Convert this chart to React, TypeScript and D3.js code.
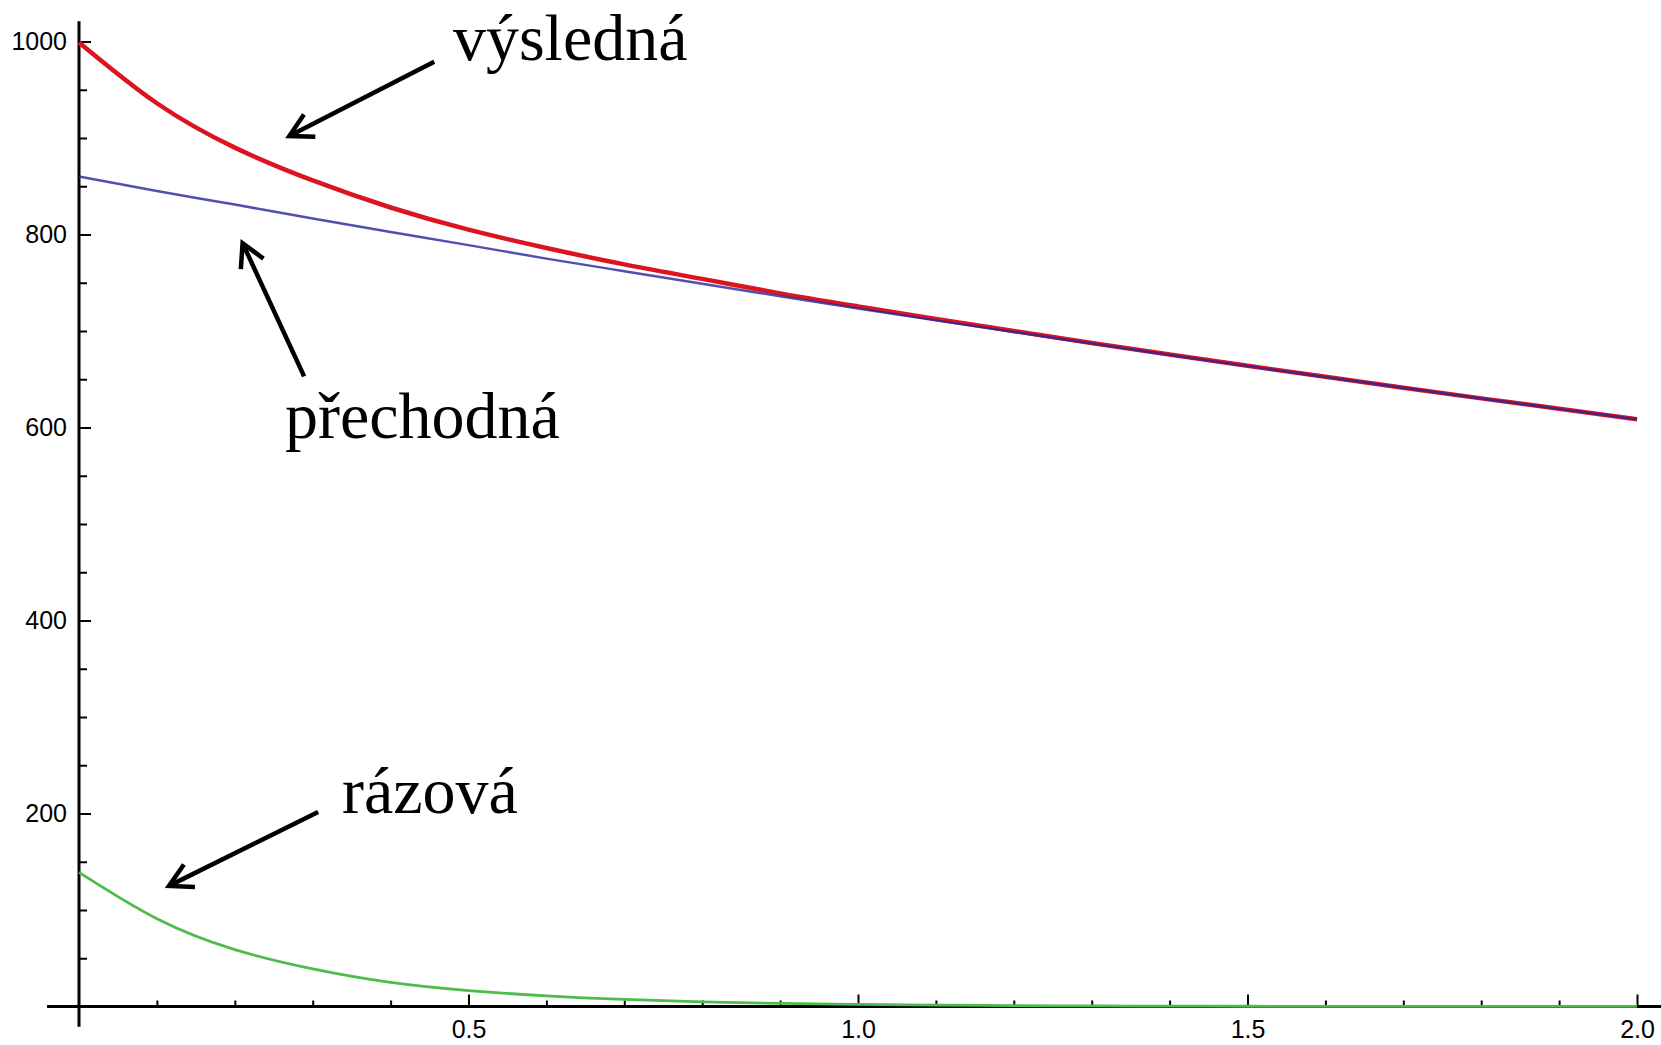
import React, { useEffect, useRef } from "react";
import * as d3 from "d3";

// time axis samples
const times = [0, 0.1, 0.2, 0.3, 0.4, 0.5, 0.6, 0.7, 0.8, 0.9, 1.0, 1.1, 1.2, 1.3, 1.4, 1.5, 1.6, 1.7, 1.8, 1.9, 2.0];

const vysledna = [999, 936, 890, 856, 828, 805, 786, 769, 754, 739, 725.5, 712.5, 700, 687.5, 675.6, 664, 652.5, 641.2, 630.2, 619.4, 608.5];
const prechodna = [860, 845, 831, 816.5, 802.5, 789, 775, 762, 749, 736, 723.4, 711, 699, 687, 675.2, 663.6, 652.3, 641.1, 630.1, 619.3, 608.5];
const razova = [139, 91, 59, 39, 25, 16.5, 11, 7.3, 4.8, 3.2, 2.1, 1.4, 0.9, 0.6, 0.4, 0.25, 0.17, 0.11, 0.07, 0.05, 0.03];

const xTicks = [0.5, 1.0, 1.5, 2.0];
const xMinorTicks = [0.1, 0.2, 0.3, 0.4, 0.6, 0.7, 0.8, 0.9, 1.1, 1.2, 1.3, 1.4, 1.6, 1.7, 1.8, 1.9];
const yTicks = [200, 400, 600, 800, 1000];
const yMinorTicks = [50, 100, 150, 250, 300, 350, 450, 500, 550, 650, 700, 750, 850, 900, 950];

// labels with arrows, in data units: text anchor, arrow tail, arrow tip
const labels = [
  { text: "výsledná", at: [0.48, 981], from: [0.456, 979], to: [0.27, 902] },
  { text: "přechodná", at: [0.2645, 589], from: [0.289, 653], to: [0.21, 791] },
  { text: "rázová", at: [0.3376, 200.5], from: [0.307, 201.5], to: [0.1155, 125] },
];

const W = 1661;
const H = 1045;

const App = () => {
  const ref = useRef<SVGGElement>(null);

  const x = d3.scaleLinear().domain([0, 2]).range([79, 1637]);
  const y = d3.scaleLinear().domain([0, 1000]).range([1006.5, 41.5]);

  useEffect(() => {
    const g = d3.select(ref.current);
    g.selectAll("*").remove();

    // axis lines
    g.append("line")
      .attr("x1", x(0)).attr("x2", x(0))
      .attr("y1", y(1021)).attr("y2", y(-21))
      .attr("stroke", "black").attr("stroke-width", 3);
    g.append("line")
      .attr("x1", x(-0.041)).attr("x2", W)
      .attr("y1", y(0)).attr("y2", y(0))
      .attr("stroke", "black").attr("stroke-width", 3);

    const yAxis = g.append("g").attr("transform", `translate(${x(0)},0)`)
      .call(d3.axisLeft(y).tickValues(yTicks).tickSize(-12).tickPadding(12).tickFormat(d3.format("d")));
    const yMinor = g.append("g").attr("transform", `translate(${x(0)},0)`)
      .call(d3.axisLeft(y).tickValues(yMinorTicks).tickSize(-8).tickFormat(() => ""));
    const xAxis = g.append("g").attr("transform", `translate(0,${y(0)})`)
      .call(d3.axisBottom(x).tickValues(xTicks).tickSize(-12).tickPadding(14).tickFormat(d3.format(".1f")));
    const xMinor = g.append("g").attr("transform", `translate(0,${y(0)})`)
      .call(d3.axisBottom(x).tickValues(xMinorTicks).tickSize(-6).tickFormat(() => ""));

    [yAxis, yMinor, xAxis, xMinor].forEach(a => {
      a.select(".domain").remove();
      a.selectAll(".tick line").attr("stroke", "black").attr("stroke-width", 2);
      a.selectAll(".tick text")
        .attr("fill", "black")
        .style("font-family", "'Liberation Sans', Arial, sans-serif")
        .style("font-size", "25px");
    });

    const line = d3.line<number>()
      .x((d, i) => x(times[i]))
      .y(d => y(d))
      .curve(d3.curveNatural);

    g.append("path").attr("d", line(razova))
      .attr("fill", "none").attr("stroke", "#4cbc4c").attr("stroke-width", 2.8);
    g.append("path").attr("d", line(vysledna))
      .attr("fill", "none").attr("stroke", "#dc1420").attr("stroke-width", 4.5);
    g.append("path").attr("d", line(prechodna))
      .attr("fill", "none").attr("stroke", "#24249c").attr("stroke-width", 2.5).attr("stroke-opacity", 0.8);

    // annotations
    labels.forEach(l => {
      const x0 = x(l.from[0]), y0 = y(l.from[1]);
      const x1 = x(l.to[0]), y1 = y(l.to[1]);
      const ang = Math.atan2(y0 - y1, x0 - x1);
      const len = 26, spread = 0.5;
      const b1 = [x1 + len * Math.cos(ang + spread), y1 + len * Math.sin(ang + spread)];
      const b2 = [x1 + len * Math.cos(ang - spread), y1 + len * Math.sin(ang - spread)];
      g.append("line")
        .attr("x1", x0).attr("y1", y0).attr("x2", x1).attr("y2", y1)
        .attr("stroke", "black").attr("stroke-width", 4.5);
      g.append("path")
        .attr("d", `M${b1[0]},${b1[1]}L${x1},${y1}L${b2[0]},${b2[1]}`)
        .attr("fill", "none").attr("stroke", "black").attr("stroke-width", 4.5)
        .attr("stroke-linejoin", "miter");
      g.append("text")
        .attr("x", x(l.at[0])).attr("y", y(l.at[1]))
        .style("font-family", "'Liberation Serif', 'Times New Roman', serif")
        .style("font-size", "66px")
        .attr("fill", "black")
        .text(l.text);
    });
  }, []);

  return (
    <svg width={W} height={H} style={{ position: "absolute", left: 0, top: 0, background: "white" }}>
      <g ref={ref} />
    </svg>
  );
};

export default App;
